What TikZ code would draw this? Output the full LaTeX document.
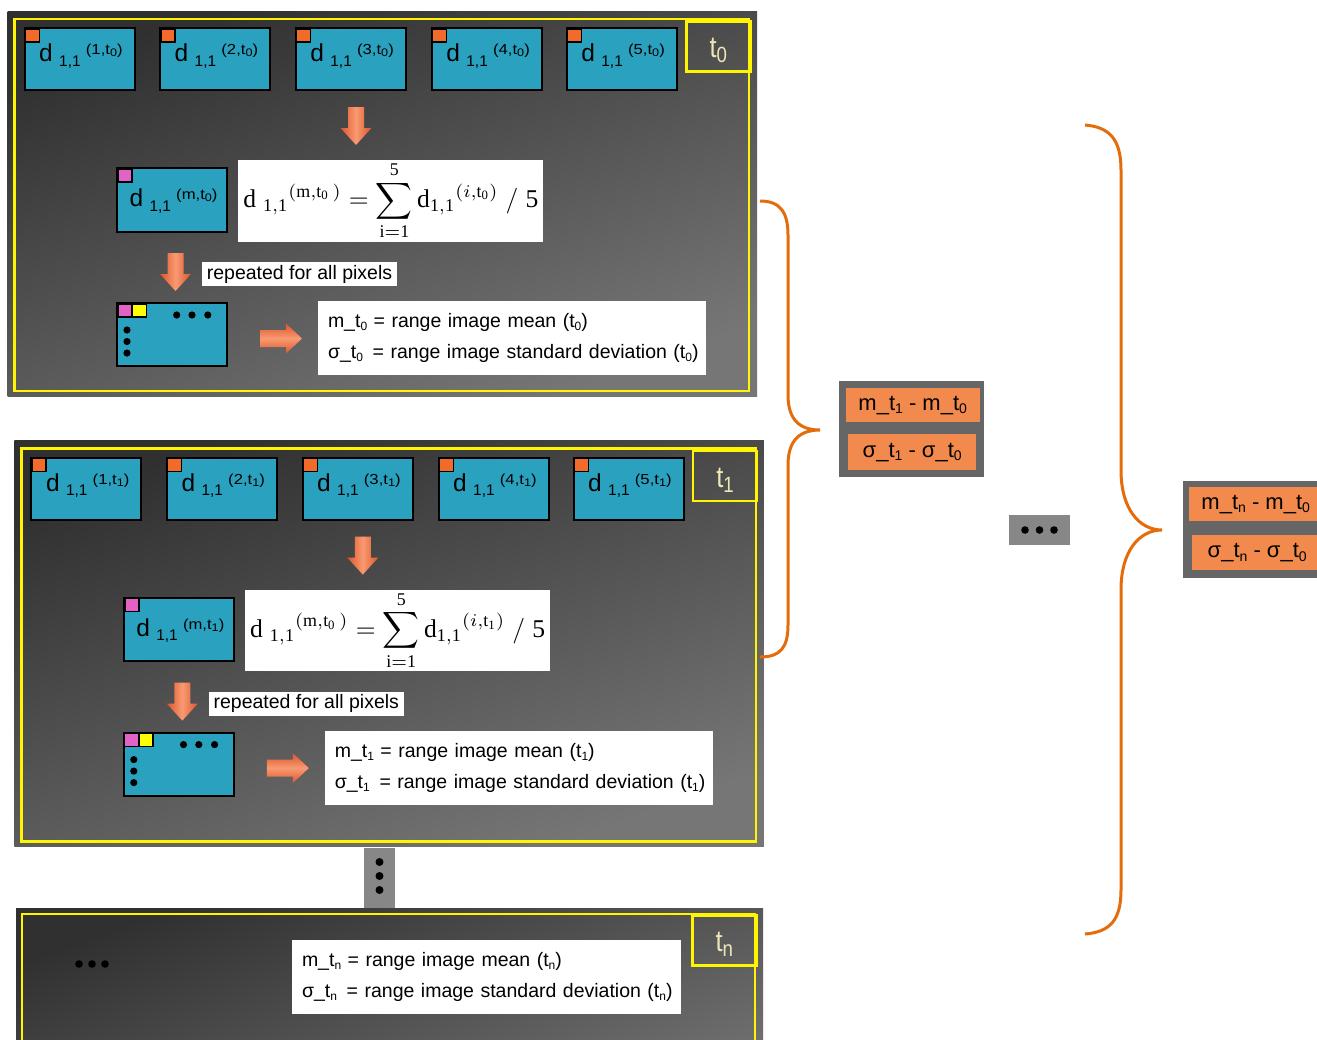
\documentclass[tikz,border=0pt]{standalone}
\usepackage{graphicx}
\usepackage{fontspec}
\setmainfont{Liberation Sans}
\setmathrm{Liberation Serif}
\usetikzlibrary{shapes.arrows}
\definecolor{tealc}{HTML}{2AA1BF}
\definecolor{sqorange}{HTML}{F26B2B}
\definecolor{sqpink}{HTML}{E262C6}
\definecolor{sqyellow}{HTML}{FFFF00}
\definecolor{frameyel}{HTML}{FFF500}
\definecolor{panellight}{HTML}{767676}
\definecolor{paneldark}{HTML}{303030}
\definecolor{arrowdark}{HTML}{DC552B}
\definecolor{arrowlight}{HTML}{F99A72}
\definecolor{resorange}{HTML}{F28A4E}
\definecolor{resgray}{HTML}{666666}
\definecolor{stripgray}{HTML}{878787}
\definecolor{bracec}{HTML}{E46C0A}
\definecolor{tlabc}{HTML}{EDE7B8}
\newcommand{\tilelab}[2]{{\fontsize{24.5}{24.5}\selectfont d}\hspace{6.4pt}\raisebox{-4.3pt}{\fontsize{15.4}{15.4}\selectfont 1,1}\hspace{5.3pt}\raisebox{7pt}{\scalebox{1.15}[1]{\fontsize{14.5}{14.5}\selectfont (#1,t\raisebox{-2pt}{\fontsize{11}{11}\selectfont #2})}}}
\newcommand{\tlabel}[1]{\textcolor{tlabc}{\scalebox{0.85}[1]{\fontsize{30}{30}\selectfont t\raisebox{-5pt}{\fontsize{22}{22}\selectfont #1}}}}
\newcommand{\lowsub}[1]{\raisebox{-3pt}{\fontsize{12}{12}\selectfont #1}}
\newcommand{\lowsubb}[1]{\raisebox{-3.5pt}{\fontsize{14}{14}\selectfont #1}}
\newcommand{\formula}[1]{\resizebox{295pt}{!}{$\displaystyle \mathrm{d}\;{}_{\mathrm{1,1}}{}^{(\mathrm{m},\mathrm{t}_{\mathrm{0}}\,)} = \sum_{\mathrm{i=1}}^{\mathrm{5}}\mathrm{d}_{\mathrm{1,1}}{}^{(i,\mathrm{t}_{\mathrm{#1}})}\;/\;\mathrm{5}$}}
\newcommand{\downarr}[2]{\shade[left color=arrowdark, right color=arrowdark, middle color=arrowlight] (#1-8,#2) -- (#1+8,#2) -- (#1+8,#2+21) -- (#1+15.5,#2+21) -- (#1,#2+38) -- (#1-15.5,#2+21) -- (#1-8,#2+21) -- cycle;}
\newcommand{\rightarr}[2]{\shade[top color=arrowdark, bottom color=arrowdark, middle color=arrowlight] (#1,#2-8.5) -- (#1+26,#2-8.5) -- (#1+26,#2-15) -- (#1+42,#2) -- (#1+26,#2+15) -- (#1+26,#2+8.5) -- (#1,#2+8.5) -- cycle;}
\tikzset{
  tile/.style={draw=black, line width=2pt, fill=tealc, minimum width=110pt, minimum height=62pt, inner sep=0pt, outer sep=0pt},
  sqbox/.style={draw=black, line width=1.5pt, minimum width=14pt, minimum height=13pt, inner sep=0pt, anchor=north west},
  tiletext/.style={anchor=base west, inner sep=0pt},
  wbox/.style={fill=white, inner sep=0pt, outer sep=0pt},
  tbox/.style={draw=frameyel, line width=2.5pt, inner sep=0pt, minimum width=64pt, minimum height=50pt, anchor=north west},
  frame/.style={draw=frameyel, line width=2.5pt},
  txtbox/.style={wbox, anchor=north west, text width=368pt, inner xsep=10pt, minimum height=74pt, align=left, font=\fontsize{19.5}{31}\selectfont},
  resbox/.style={fill=resorange, inner sep=0pt, anchor=north west, minimum width=134pt, minimum height=34pt, font=\fontsize{22}{22}\selectfont},
  graybox/.style={fill=resgray, inner sep=0pt, anchor=north west},
  brace/.style={draw=bracec, line width=3pt},
  panelshade/.style={top color=paneldark, bottom color=panellight, shading angle=20},
}
\newcommand{\mypanel}[4]{%
\begin{scope}[shift={#2}, name prefix=#1-]
\shade[panelshade] (7.5,11) rectangle (757,396+#4);
\draw[frame] (14.5,19) rectangle (749,391+#4);
\node[tbox] (tbox) at (685,20) {};
\node[yshift=-4pt] (tlab) at (tbox.center) {\tlabel{#3}};
\foreach \i/\x in {1/24.5,2/160,3/295.7,4/431.7,5/566.7}{
  \node[tile, anchor=north west] (tile\i) at (\x,28.3) {};
  \node[sqbox, fill=sqorange] (sq\i) at (tile\i.north west) {};
  \node[tiletext] (lab\i) at ([xshift=14.5pt,yshift=-33.4pt]tile\i.north west) {\tilelab{\i}{#3}};
}
\downarr{356}{107}
\node[tile, anchor=north west, minimum height=63.4pt] (mtile) at (117.3,168.3) {};
\node[sqbox, fill=sqpink] (msq) at (mtile.north west) {};
\node[tiletext] (mlab) at ([xshift=12pt,yshift=-38.4pt]mtile.north west) {\tilelab{m}{#3}};
\node[wbox, anchor=north west, minimum width=305pt, minimum height=81.7pt] (form) at (238.3,160) {\formula{#3}};
\downarr{175.5}{253}
\node[wbox, anchor=north west, minimum width=195pt, minimum height=24pt, font=\fontsize{19.5}{19.5}\selectfont] (rep) at (202,262) {repeated for all pixels};
\node[tile, anchor=north west, minimum height=63pt] (grid) at (117,303) {};
\node[sqbox, fill=sqpink] (gsq1) at (grid.north west) {};
\node[sqbox, fill=sqyellow] (gsq2) at ([xshift=14.5pt]grid.north west) {};
\foreach \x in {176.7,192,207.8} \fill (\x,315) circle (3.6pt);
\foreach \y in {330,341.5,353} \fill (127,\y) circle (3.6pt);
\rightarr{260}{338.5}
\node[txtbox] (stats) at (318,301) {\mbox{m\_t\lowsub{#3} = range image mean (t\lowsub{#3})}\\ \mbox{σ\_t\lowsub{#3}\ \,= range image standard deviation (t\lowsub{#3})}};
\end{scope}}
\begin{document}
\begin{tikzpicture}[x=1pt,y=-1pt]
\useasboundingbox (0,0) rectangle (1317,1039);
\clip (0,0) rectangle (1317,1039);
\fill[white] (0,0) rectangle (1317,1039);
\mypanel{pa}{(0,0)}{0}{0}
\mypanel{pb}{(6.8,429.6)}{1}{21}
% connector strip
\fill[stripgray] (364,848) rectangle (395,908);
\foreach \y in {862,876,890} \fill (379.5,\y) circle (4pt);
% panel n
\shade[panelshade] (16,908) rectangle (763,1139);
\draw[frame] (22,1045) -- (22,914) -- (755,914) -- (755,1045);
\node[tbox] (tnbox) at (691,914) {};
\node[yshift=-4pt] (tnlab) at (tnbox.center) {\tlabel{n}};
\foreach \x in {79,92,105} \fill (\x,964) circle (3.8pt);
\node[txtbox, text width=369pt] (statsn) at (292,940) {\mbox{m\_t\lowsub{n} = range image mean (t\lowsub{n})}\\ \mbox{σ\_t\lowsub{n}\ \,= range image standard deviation (t\lowsub{n})}};
% result boxes
\node[graybox, minimum width=145pt, minimum height=96pt] (g1) at (839,381) {};
\node[resbox] (r1a) at (845.5,388) {m\_t\lowsubb{1} - m\_t\lowsubb{0}};
\node[resbox, minimum width=128pt, minimum height=36pt] (r1b) at (848,434) {σ\_t\lowsubb{1} - σ\_t\lowsubb{0}};
\node[fill=stripgray, minimum width=61pt, minimum height=30pt, inner sep=0pt, anchor=north west] (dotsbox) at (1009,515) {};
\foreach \x in {1025,1039.5,1054} \fill (\x,530) circle (3.8pt);
\node[graybox, minimum width=145pt, minimum height=97pt] (g2) at (1183,481) {};
\node[resbox] (r2a) at (1188.5,487) {m\_t\lowsubb{n} - m\_t\lowsubb{0}};
\node[resbox, minimum width=130pt, minimum height=35pt] (r2b) at (1192,535) {σ\_t\lowsubb{n} - σ\_t\lowsubb{0}};
% braces
\draw[brace] (760,201) .. controls (780,201) and (788,212) .. (788,235) -- (788,395) .. controls (788,420) and (800,430) .. (820,430) .. controls (800,430) and (788,440) .. (788,465) -- (788,625) .. controls (788,648) and (780,657) .. (760,657);
\draw[brace] (1085,125) .. controls (1110,127) and (1121,140) .. (1121,170) -- (1121,470) .. controls (1121,510) and (1140,530) .. (1162,530) .. controls (1140,530) and (1121,550) .. (1121,590) -- (1121,890) .. controls (1121,920) and (1110,932) .. (1085,934);
\end{tikzpicture}
\end{document}
